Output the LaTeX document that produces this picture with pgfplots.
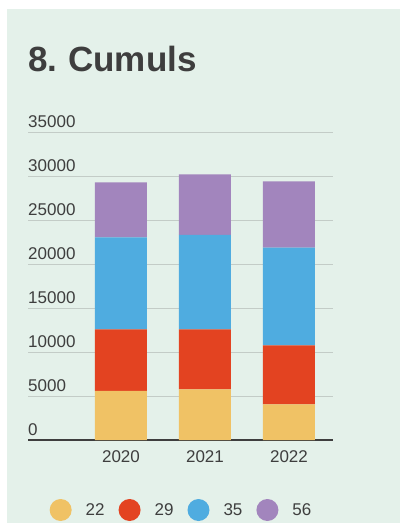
\documentclass[border=0pt]{standalone}
\usepackage{fontspec}
\setmainfont{Liberation Sans}
\usepackage{pgfplots}
\usepackage{pgfplotstable}
\pgfplotsset{compat=1.18}

\definecolor{bg}{HTML}{E4F1EA}
\definecolor{gridc}{HTML}{C3CCC7}
\definecolor{txt}{HTML}{3E3E3E}
\definecolor{c22}{HTML}{F0C265}
\definecolor{c29}{HTML}{E34321}
\definecolor{c35}{HTML}{4FACE0}
\definecolor{c56}{HTML}{A285BD}

% stacked segments per year (x = 0,1,2 -> 2020,2021,2022)
\pgfplotstableread{
x   a     b     c      d
0   5570  7010  10450  6250
1   5760  6820  10720  6890
2   4050  6710  11100  7540
}\cumuls

\begin{document}
\begin{tikzpicture}
\useasboundingbox (-28pt,-83pt) rectangle (372pt,440pt);
\fill[white] (-28pt,-83pt) rectangle (372pt,440pt);
\fill[bg] (-21pt,-83pt) rectangle (372pt,431pt);
\node[anchor=base west, inner sep=0pt, text=txt,
      font=\fontsize{35}{40}\selectfont\bfseries] at (0pt,368pt) {8.\kern-2pt{} Cumuls};

\begin{axis}[
    at={(0pt,0pt)}, anchor=south west,
    scale only axis,
    width=305pt, height=308pt,
    ybar stacked,
    bar width=0.619,
    xmin=-1.107, xmax=2.524,
    ymin=0, ymax=35000,
    xtick={0,1,2},
    xticklabels={2020,2021,2022},
    ytick={0,5000,...,35000},
    scaled y ticks=false,
    /pgf/number format/1000 sep={},
    /pgf/number format/assume math mode=true,
    axis line style={draw=none},
    major tick length=0pt,
    ymajorgrids=true,
    grid style={draw=gridc, line width=1pt},
    clip=false,
    tick label style={font=\fontsize{17}{20}\selectfont, text=txt},
    yticklabel style={anchor=south west, inner sep=0pt, yshift=4pt},
    xticklabel style={anchor=north, inner sep=0pt, yshift=-10pt},
    legend columns=4,
    legend style={at={(0.5,-0.2273)}, anchor=center, draw=none, fill=none,
                  column sep=14pt, font=\fontsize{17}{20}\selectfont,
                  text=txt, nodes={inner sep=0pt}},
  ]
  \addplot[fill=c22, draw=none, legend image code/.code={\fill[c22] (0pt,0pt) circle (11pt);}] table[x=x, y=a] {\cumuls};
  \addplot[fill=c29, draw=none, legend image code/.code={\fill[c29] (0pt,0pt) circle (11pt);}] table[x=x, y=b] {\cumuls};
  \addplot[fill=c35, draw=none, legend image code/.code={\fill[c35] (0pt,0pt) circle (11pt);}] table[x=x, y=c] {\cumuls};
  \addplot[fill=c56, draw=none, legend image code/.code={\fill[c56] (0pt,0pt) circle (11pt);}] table[x=x, y=d] {\cumuls};
  \legend{22,29,35,56}
  \draw[txt, line width=2pt] (rel axis cs:0,0) -- (rel axis cs:1,0);
\end{axis}
\end{tikzpicture}
\end{document}
